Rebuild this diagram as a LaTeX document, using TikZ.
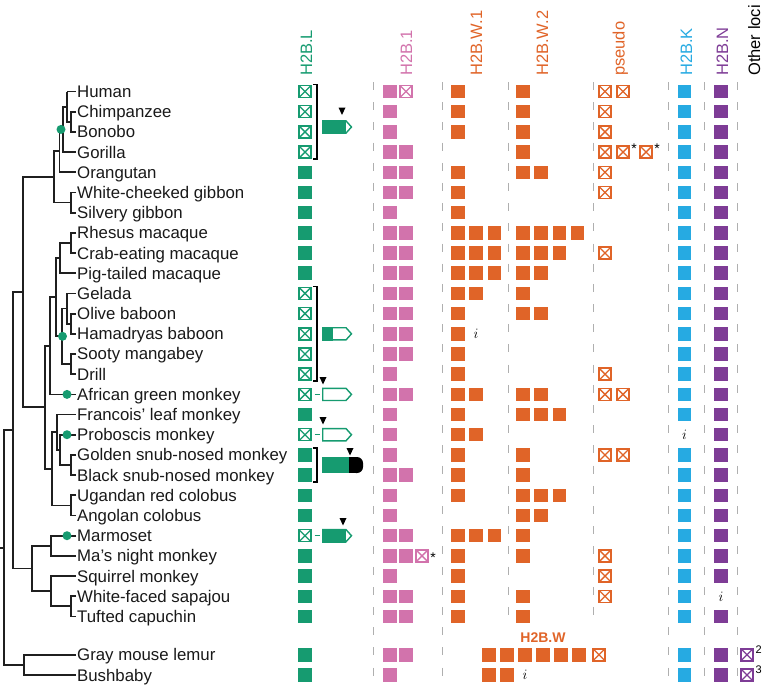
\documentclass[tikz,border=0pt]{standalone}
\usepackage{fontspec}
\setmainfont{Liberation Sans}
\definecolor{cG}{RGB}{22,155,112}
\definecolor{cP}{RGB}{210,115,172}
\definecolor{cO}{RGB}{224,100,40}
\definecolor{cB}{RGB}{38,170,226}
\definecolor{cV}{RGB}{126,60,150}
\definecolor{cD}{RGB}{175,175,175}
\newcommand\RY[1]{\pgfmathsetmacro\yy{91.5+20.19*(#1)}}
\newcommand\Fsq[3]{\RY{#3}\fill[#1] ({#2-6.75},{\yy-6.75}) rectangle ({#2+6.75},{\yy+6.75});}
\newcommand\Xsq[3]{\RY{#3}\draw[#1,line width=1.5pt,fill=white] ({#2-6},{\yy-6}) rectangle ({#2+6},{\yy+6});
  \draw[#1,line width=1.3pt] ({#2-6},{\yy-6}) -- ({#2+6},{\yy+6}) ({#2-6},{\yy+6}) -- ({#2+6},{\yy-6});}
\newcommand\Tri[2]{\fill[black] ({#1-3.5},#2) -- ({#1+3.5},#2) -- (#1,{#2+7.5}) -- cycle;}
\newcommand\Gene[2]{\draw[cG,line width=1.4pt,fill=white,line join=miter] (322.7,{#1-6.1}) -- (346,{#1-6.1}) -- (351.5,#1) -- (346,{#1+6.1}) -- (322.7,{#1+6.1}) -- cycle;
  \fill[cG] (322,{#1-6.8}) rectangle (#2,{#1+6.8});}
\begin{document}
\begin{tikzpicture}[x=1pt,y=-1pt,
  tree/.style={line width=1.8pt,black!88,line join=miter},
  sp/.style={anchor=base west,inner sep=0pt,font=\fontsize{16.8}{20}\selectfont,text=black!90},
  hdr/.style={anchor=base west,inner sep=0pt,rotate=90,font=\fontsize{16.5}{18}\selectfont},
  dsh/.style={cD,line width=1pt,dash pattern=on 8pt off 12.19pt},
  brk/.style={line width=1.3pt,black},
  note/.style={inner sep=0pt,font=\fontsize{15}{15}\selectfont},
  star/.style={anchor=base,inner sep=0pt,font=\fontsize{14}{14}\selectfont},
  dot/.style={fill=cG,circle,inner sep=0pt,minimum size=9pt}]
\useasboundingbox (0,0) rectangle (762,686);
% headers
\node[hdr,text=cG] (hL) at (312,76) {H2B.L};
\node[hdr,text=cP] (h1) at (412,76) {H2B.1};
\node[hdr,text=cO] (hW1) at (482,76) {H2B.W.1};
\node[hdr,text=cO] (hW2) at (548,76) {H2B.W.2};
\node[hdr,text=cO] (hps) at (624.5,76) {pseudo};
\node[hdr,text=cB] (hK) at (692,76) {H2B.K};
\node[hdr,text=cV] (hN) at (728,76) {H2B.N};
\node[hdr,text=black] (hO) at (760,76) {Other loci};
% dashed separators
\foreach \x in {373,442,668,704,737} {\draw[dsh] (\x,82) -- (\x,686);}
\foreach \x in {508,593} {\draw[dsh] (\x,82) -- (\x,624);}
% species labels
\foreach \n/\r/\t in {human/0/Human, chimp/1/Chimpanzee, bonobo/2/Bonobo, gorilla/3/Gorilla,
  orang/4/Orangutan, wcg/5/White-cheeked gibbon, sgib/6/Silvery gibbon, rhesus/7/Rhesus macaque,
  crab/8/Crab-eating macaque, pig/9/Pig-tailed macaque, gelada/10/Gelada, olive/11/Olive baboon,
  hama/12/Hamadryas baboon, sooty/13/Sooty mangabey, drill/14/Drill, agm/15/African green monkey,
  franc/16/Francois' leaf monkey, prob/17/Proboscis monkey, gold/18/Golden snub-nosed monkey,
  black/19/Black snub-nosed monkey, ugan/20/Ugandan red colobus, ango/21/Angolan colobus,
  marm/22/Marmoset, ma/23/Ma's night monkey, squi/24/Squirrel monkey, wfs/25/White-faced sapajou,
  tuft/26/Tufted capuchin, lemur/27.9/Gray mouse lemur, bush/28.9/Bushbaby}
  {\RY{\r}\node[sp] (\n) at (77,{\yy+6}) {\t};}
% tree
\draw[tree] (67,91.5) -- (76,91.5);
\draw[tree] (76,111.7) -- (71,111.7) -- (71,131.9) -- (76,131.9);
\draw[tree] (71,121.8) -- (67,121.8) -- (67,91.5);
\draw[tree] (67,106.65) -- (63,106.65) -- (63,152.1) -- (76,152.1);
\draw[tree] (63,129.4) -- (59.5,129.4) -- (59.5,172.3) -- (76,172.3);
\draw[tree] (76,192.5) -- (71,192.5) -- (71,212.6) -- (76,212.6);
\draw[tree] (59.5,150.85) -- (54,150.85) -- (54,202.55) -- (71,202.55);
\draw[tree] (54,176.7) -- (23,176.7) -- (23,407.3) -- (45,407.3);
\draw[tree] (76,232.8) -- (71,232.8) -- (71,253) -- (76,253);
\draw[tree] (71,242.9) -- (60,242.9) -- (60,273.2) -- (76,273.2);
\draw[tree] (76,313.6) -- (71,313.6) -- (71,333.8) -- (76,333.8);
\draw[tree] (71,323.7) -- (67,323.7) -- (67,293.4) -- (76,293.4);
\draw[tree] (76,354) -- (71,354) -- (71,374.2) -- (76,374.2);
\draw[tree] (67,308.55) -- (62,308.55) -- (62,364.1) -- (71,364.1);
\draw[tree] (62,336.3) -- (56,336.3) -- (56,258.05) -- (60,258.05);
\draw[tree] (56,297.2) -- (50,297.2) -- (50,394.4) -- (76,394.4);
\draw[tree] (50,345.8) -- (45,345.8) -- (45,468.8) -- (52,468.8);
\draw[tree] (76,454.9) -- (71,454.9) -- (71,475.1) -- (76,475.1);
\draw[tree] (71,465) -- (60,465) -- (60,434.7) -- (76,434.7);
\draw[tree] (60,449.85) -- (57,449.85) -- (57,414.5) -- (76,414.5);
\draw[tree] (76,495.3) -- (71,495.3) -- (71,515.5) -- (76,515.5);
\draw[tree] (57,432.2) -- (52,432.2) -- (52,505.4) -- (71,505.4);
\draw[tree] (23,292) -- (13,292) -- (13,568.5) -- (32,568.5);
\draw[tree] (76,535.7) -- (51,535.7) -- (51,555.9) -- (76,555.9);
\draw[tree] (76,596.3) -- (71,596.3) -- (71,616.4) -- (76,616.4);
\draw[tree] (71,606.35) -- (51,606.35) -- (51,576.1) -- (76,576.1);
\draw[tree] (51,545.8) -- (32,545.8) -- (32,591.2) -- (51,591.2);
\draw[tree] (13,430.25) -- (4,430.25) -- (4,664.9) -- (24,664.9);
\draw[tree] (76,654.8) -- (24,654.8) -- (24,675) -- (76,675);
\draw[tree] (0,547.6) -- (4,547.6);
\node[dot] (d1) at (61,129.4) {};
\node[dot] (d2) at (62.5,336.3) {};
\node[dot] (d3) at (67,394.4) {};
\node[dot] (d4) at (67,434.7) {};
\node[dot] (d5) at (67,535.7) {};
% H2B.L
\foreach \r in {0,1,2,3,10,11,12,13,14,15,17,22} {\Xsq{cG}{305}{\r}}
\foreach \r in {4,5,6,7,8,9,16,18,19,20,21,23,24,25,26,27.9,28.9} {\Fsq{cG}{305}{\r}}
\draw[brk] (313,84.5) -- (317,84.5) -- (317,159) -- (313,159);
\draw[brk] (313,286.5) -- (317,286.5) -- (317,381) -- (313,381);
\draw[brk] (313,448) -- (317,448) -- (317,482) -- (313,482);
\Gene{127}{346}
\Gene{333.8}{333}
\Gene{394.4}{322}
\Gene{434.7}{322}
\Gene{535.7}{346}
\fill[cG] (322,457) rectangle (349.5,473);
\fill[black] (349,457) rectangle (356,473);
\fill[black,rounded corners=6pt] (350,457) rectangle (363,473);
\foreach \r in {15,17,22} {\RY{\r}\draw[cG,line width=1.5pt] (314.5,\yy) -- (319.5,\yy);}
\Tri{342}{107.5}
\Tri{323}{377}
\Tri{323}{417}
\Tri{350}{448}
\Tri{343}{518}
% H2B.1
\Fsq{cP}{390}{0}\Xsq{cP}{406}{0}
\foreach \r in {1,2,6,14,16,17,18,20,21,24,28.9} {\Fsq{cP}{390}{\r}}
\foreach \r in {3,4,5,7,8,9,10,11,12,13,15,19,22,23,25,26,27.9} {\Fsq{cP}{390}{\r}\Fsq{cP}{406}{\r}}
\Xsq{cP}{422}{23}
\node[star] (s1) at (433,562) {*};
% H2B.W.1
\foreach \r/\n in {0/1,1/1,2/1,4/1,5/1,6/1,7/3,8/3,9/3,10/2,11/1,12/1,13/1,14/1,15/2,16/1,17/2,18/1,19/1,20/1,22/3,23/1,24/1,25/1,26/1}
  {\foreach \k in {1,...,\n} {\Fsq{cO}{458+18.2*(\k-1)}{\r}}}
\node[note] (i1) at (476,334) {$i$};
% H2B.W.2
\foreach \r/\n in {0/1,1/1,2/1,3/1,4/2,7/4,8/3,9/2,10/1,11/2,15/2,16/3,18/1,19/1,20/3,21/2,22/1,23/1,25/1,26/1}
  {\foreach \k in {1,...,\n} {\Fsq{cO}{523+18.2*(\k-1)}{\r}}}
% pseudo
\foreach \r in {0,1,2,3,4,5,8,14,15,18,23,24,25} {\Xsq{cO}{605}{\r}}
\foreach \r in {0,3,15,18} {\Xsq{cO}{623}{\r}}
\Xsq{cO}{646}{3}
\node[star] (s2) at (634,153.6) {*};
\node[star] (s3) at (657,153.6) {*};
% H2B.W (strepsirrhines)
\node[inner sep=0pt,font=\bfseries\fontsize{14}{14}\selectfont,text=cO] (hW) at (543,638) {H2B.W};
\foreach \k in {0,...,5} {\Fsq{cO}{489+18*\k}{27.9}}
\Xsq{cO}{599}{27.9}
\Fsq{cO}{489}{28.9}\Fsq{cO}{507}{28.9}
\node[note] (i4) at (525,675) {$i$};
% H2B.K
\foreach \r in {0,...,16} {\Fsq{cB}{684.5}{\r}}
\foreach \r in {18,...,26} {\Fsq{cB}{684.5}{\r}}
\Fsq{cB}{684.5}{27.9}\Fsq{cB}{684.5}{28.9}
\node[note] (i2) at (684.5,434.7) {$i$};
% H2B.N
\foreach \r in {0,...,24} {\Fsq{cV}{721}{\r}}
\Fsq{cV}{721}{26}\Fsq{cV}{721}{27.9}\Fsq{cV}{721}{28.9}
\node[note] (i3) at (721,596.3) {$i$};
% other loci
\Xsq{cV}{747}{27.9}
\Xsq{cV}{747}{28.9}
\node[anchor=base west,inner sep=0pt,font=\fontsize{11}{11}\selectfont] (o2) at (755.5,653) {2};
\node[anchor=base west,inner sep=0pt,font=\fontsize{11}{11}\selectfont] (o3) at (755.5,673) {3};
\end{tikzpicture}
\end{document}
